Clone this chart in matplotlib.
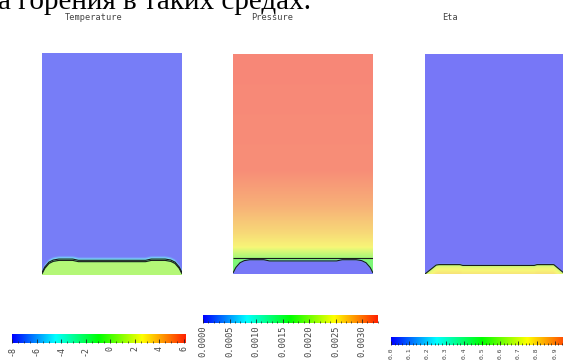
import numpy as np
import matplotlib.pyplot as plt
from matplotlib.colors import Normalize, LinearSegmentedColormap
from matplotlib.ticker import MultipleLocator, FormatStrFormatter

# reaction front: position across the cell -> height above the floor
front_x = [0.0, 0.02, 0.05, 0.08, 0.12, 0.22, 0.26, 0.74, 0.78, 0.88, 0.92, 0.95, 0.98, 1.0]
front_h = [0.0, 0.04, 0.075, 0.09, 0.097, 0.097, 0.088, 0.088, 0.097, 0.097, 0.09, 0.075, 0.04, 0.0]

# temperature vs distance above the front
temp_dist = [-0.3, 0.0, 0.01, 0.022, 0.04, 2.0]
temp_vals = [0.8, 0.8, -2.0, -5.0, -7.8, -7.8]
temp_levels = [-4.0, -1.5]
temp_range = (-8.0, 6.2)

# pressure vs height above the floor (gas above the front)
pres_h = [0.0, 0.1, 0.12, 0.14, 0.2, 0.3, 0.5, 0.75, 1.6]
pres_vals = [0.00165, 0.00170, 0.00198, 0.0021, 0.0025, 0.0027, 0.0030, 0.00325, 0.0033]
pres_low = 0.0
pres_levels = [0.0008, 0.00198]
pres_range = (0.0, 0.0033)

# eta: shape of the converted layer and its values
eta_x = [0.0, 0.08, 0.1, 0.25, 0.27, 0.78, 0.8, 0.92, 1.0]
eta_h = [0.0, 0.065, 0.068, 0.068, 0.062, 0.062, 0.068, 0.068, 0.0]
eta_depth = [0.0, 0.02, 0.07]
eta_band = [0.63, 0.72, 0.8]
eta_top = 0.0
eta_levels = [0.3]
eta_range = (0.0, 1.0)

# blue - cyan - green - yellow - red
rainbow = LinearSegmentedColormap.from_list(
    "rainbow5", ["#0000ff", "#00ffff", "#00ff00", "#ffff00", "#ff2000"])

W, H = 1.0, 1.6
x = np.linspace(0, W, 281)
y = np.linspace(0, H, 441)
X, Y = np.meshgrid(x, y)
front = np.interp(X, front_x, front_h)
d = Y - front

T = np.interp(d, temp_dist, temp_vals)

s = np.clip(d / 0.015, 0, 1)
P = pres_low + (np.interp(Y, pres_h, pres_vals) - pres_low) * s

eh = np.interp(X, eta_x, eta_h)
depth = eh - Y
band = np.interp(np.clip(depth, 0, None), eta_depth, eta_band)
se = np.clip(depth / 0.008 + 0.5, 0, 1)
E = eta_top + (band - eta_top) * se


def washed(F, rng, a=0.5, bg=0.94):
    # pale version of the colormap, as the field is shown semi-transparent
    rgb = rainbow(Normalize(*rng)(F))[..., :3]
    return a * rgb + (1 - a) * bg


fig = plt.figure(figsize=(5.63, 3.61), dpi=100)
FW, FH = 563.0, 361.0


def box(x0, y0, x1, y1):
    return [x0 / FW, 1 - y1 / FH, (x1 - x0) / FW, (y1 - y0) / FH]


fig.text(-0.004, 1 - 9 / FH, "а горения в таких средах.", family="Liberation Serif",
         fontsize=21, va="baseline", ha="left")

panels = [
    ("Temperature", T, temp_range, temp_levels, box(42, 53, 182, 275), 94),
    ("Pressure", P, pres_range, pres_levels, box(233, 54, 373, 274), 272),
    ("Eta", E, eta_range, eta_levels, box(425, 54, 565, 274), 450),
]
for title, F, rng, levels, rect, tx in panels:
    ax = fig.add_axes(rect)
    ax.imshow(washed(F, rng), origin="lower", extent=(0, W, 0, H), aspect="auto",
              interpolation="bilinear")
    ax.contour(X, Y, F, levels=levels, colors="#1a1a1a", linewidths=0.8,
               linestyles="solid")
    ax.set_xlim(0, W)
    ax.set_ylim(0, H)
    ax.axis("off")
    fig.text(tx / FW, 1 - 18 / FH, title, family="DejaVu Sans Mono", fontsize=6.2,
             color="#444444", ha="center", va="center")

bars = [
    (temp_range, box(12, 334, 186, 343), 2, 0.5, "%g", 6.0),
    (pres_range, box(203, 315, 378, 323), 0.0005, 0.0001, "%.4f", 6.3),
    (eta_range, box(391, 337, 573, 345), 0.1, 0.02, "%.1f", 4.6),
]
for rng, rect, major, minor, fmt, fs in bars:
    cax = fig.add_axes(rect)
    grad = np.linspace(rng[0], rng[1], 512)[None, :]
    cax.imshow(grad, extent=(rng[0], rng[1], 0, 1), aspect="auto", cmap=rainbow,
               norm=Normalize(*rng))
    cax.set_xlim(*rng)
    cax.set_ylim(0, 1)
    cax.xaxis.set_major_locator(MultipleLocator(major))
    cax.xaxis.set_minor_locator(MultipleLocator(minor))
    cax.xaxis.set_major_formatter(FormatStrFormatter(fmt))
    cax.tick_params(axis="x", which="major", direction="in", length=3, width=0.6,
                    color="#222222", labelsize=fs, labelrotation=90, pad=2)
    cax.tick_params(axis="x", which="minor", direction="in", length=1.5, width=0.5,
                    color="#222222")
    for lbl in cax.get_xticklabels():
        lbl.set_family("DejaVu Sans Mono")
        lbl.set_color("#444444")
    cax.set_yticks([])
    for sp in cax.spines.values():
        sp.set_visible(False)

fig.savefig("out.png", dpi=100)
